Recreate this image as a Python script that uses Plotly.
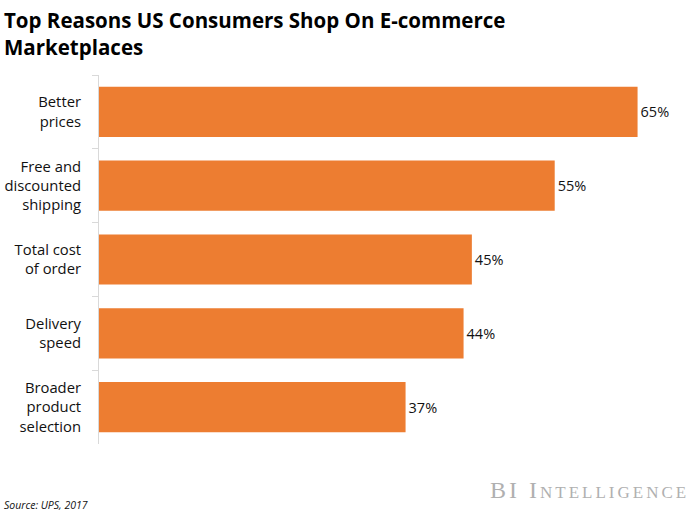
import plotly.graph_objects as go

categories = ["Better<br>prices", "Free and<br>discounted<br>shipping", "Total cost<br>of order",
              "Delivery<br>speed", "Broader<br>product<br>selection"]
values = [65, 55, 45, 44, 37]
labels = [f"{v}%" for v in values]

ORANGE = "#ED7D31"
FONT = "Open Sans, Liberation Sans, sans-serif"

fig = go.Figure(go.Bar(
    x=values, y=categories,
    orientation="h",
    marker=dict(color=ORANGE, line=dict(width=0)),
    width=0.68,
    text=labels,
    textposition="outside",
    textfont=dict(size=14.5, color="#111111", family=FONT),
    cliponaxis=False,
    hoverinfo="skip",
))

fig.update_layout(
    width=700, height=513,
    paper_bgcolor="white", plot_bgcolor="white",
    margin=dict(l=99, r=21, t=75, b=69),
    showlegend=False,
    font=dict(family=FONT, color="#111111"),
)
fig.update_xaxes(range=[0, 70], visible=False, showgrid=False, zeroline=False)
fig.update_yaxes(
    autorange="reversed", automargin=False,
    showline=True, linecolor="#d9d9d9", linewidth=1,
    ticks="outside", tickson="boundaries", ticklen=6, tickcolor="#d9d9d9",
    ticklabelstandoff=14,
    tickfont=dict(size=14.8, family=FONT, color="#111111"),
    showgrid=False, zeroline=False,
)

# title as annotation so both lines sit where they should
fig.add_annotation(
    text="<b>Top Reasons US Consumers Shop On E-commerce<br>Marketplaces</b>",
    xref="paper", yref="paper", x=-97 / 580, y=1 + 71 / 369,
    xanchor="left", yanchor="top", align="left", showarrow=False,
    font=dict(size=20.5, family=FONT, color="#000000"),
)
fig.add_annotation(
    text="<i>Source: UPS, 2017</i>",
    xref="paper", yref="paper", x=-97 / 580, y=-61 / 369,
    xanchor="left", yanchor="middle", showarrow=False,
    font=dict(size=10.5, family=FONT, color="#111111"),
)
fig.add_annotation(
    text="<span style='letter-spacing:3px'>BI I</span>"
         "<span style='font-size:17px;letter-spacing:3px'>NTELLIGENCE</span>",
    xref="paper", yref="paper", x=1 + 12 / 580, y=-46 / 369,
    xanchor="right", yanchor="middle", showarrow=False,
    font=dict(size=24, family="Liberation Serif, DejaVu Serif, serif", color="#b0b0b0"),
)

fig.write_html("out.html", config={"displayModeBar": False},
               post_script="document.body.style.margin='0';")
